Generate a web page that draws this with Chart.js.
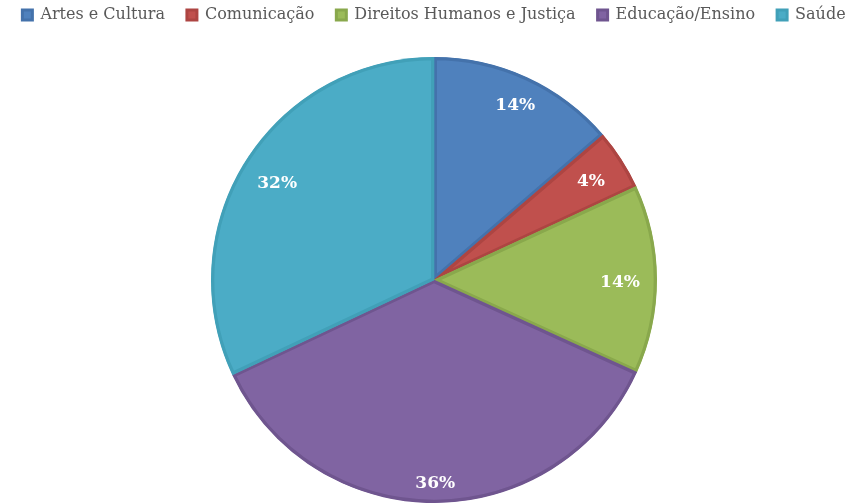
<!DOCTYPE html>
<html><head><meta charset="utf-8">
<script src="https://cdn.jsdelivr.net/npm/chart.js@4/dist/chart.umd.min.js"></script>
<style>html,body{margin:0;padding:0;background:#fff;overflow:hidden}#wrap{width:868px;height:503px}</style>
</head><body><div id="wrap"><canvas id="c" width="868" height="503"></canvas></div>
<script>
const categories = ["Artes e Cultura", "Comunicação", "Direitos Humanos e Justiça", "Educação/Ensino", "Saúde"];
const values = [13.7, 4.4, 13.7, 36.2, 32.0];
const colors = ["#4F81BD", "#C0504D", "#9BBB59", "#8064A2", "#4BACC6"];
const edgeColors = ["#4472AB", "#AD4542", "#89A84C", "#6F558F", "#41A0B8"];

const labelRadius = [0.873, 0.837, 0.834, 0.9, 0.833];

const legendExtra = {
  id: 'legendExtra',
  beforeInit(chart) {
    const orig = chart.legend.fit;
    chart.legend.fit = function () { orig.call(this); this.height += 24; };
  }
};
const pctLabels = {
  id: 'pctLabels',
  afterDatasetsDraw(chart) {
    const ctx = chart.ctx;
    const meta = chart.getDatasetMeta(0);
    const total = values.reduce((a, b) => a + b, 0);
    ctx.save();
    ctx.fillStyle = '#ffffff';
    ctx.font = 'bold 17px "DejaVu Serif"';
    ctx.textAlign = 'center';
    ctx.textBaseline = 'middle';
    meta.data.forEach((arc, i) => {
      const p = arc.getProps(['x', 'y', 'startAngle', 'endAngle', 'outerRadius'], true);
      const mid = (p.startAngle + p.endAngle) / 2;
      const r = p.outerRadius * labelRadius[i];
      const txt = Math.round(values[i] / total * 100) + '%';
      ctx.fillText(txt, p.x + Math.cos(mid) * r, p.y + Math.sin(mid) * r + 3);
    });
    ctx.restore();
  }
};

new Chart(document.getElementById('c'), {
  type: 'pie',
  data: {
    labels: categories,
    datasets: [{
      data: values,
      backgroundColor: colors,
      borderColor: edgeColors,
      borderWidth: 3,
      borderAlign: 'inner'
    }]
  },
  options: {
    responsive: false,
    animation: false,
    layout: { padding: { top: -15, bottom: -2 } },
    plugins: {
      tooltip: { enabled: false },
      legend: {
        position: 'top',
        labels: {
          boxWidth: 10, boxHeight: 10,
          padding: 22,
          color: '#595959',
          font: { family: '"DejaVu Serif"', size: 16 }
        }
      }
    }
  },
  plugins: [legendExtra, pctLabels]
});
</script></body></html>
